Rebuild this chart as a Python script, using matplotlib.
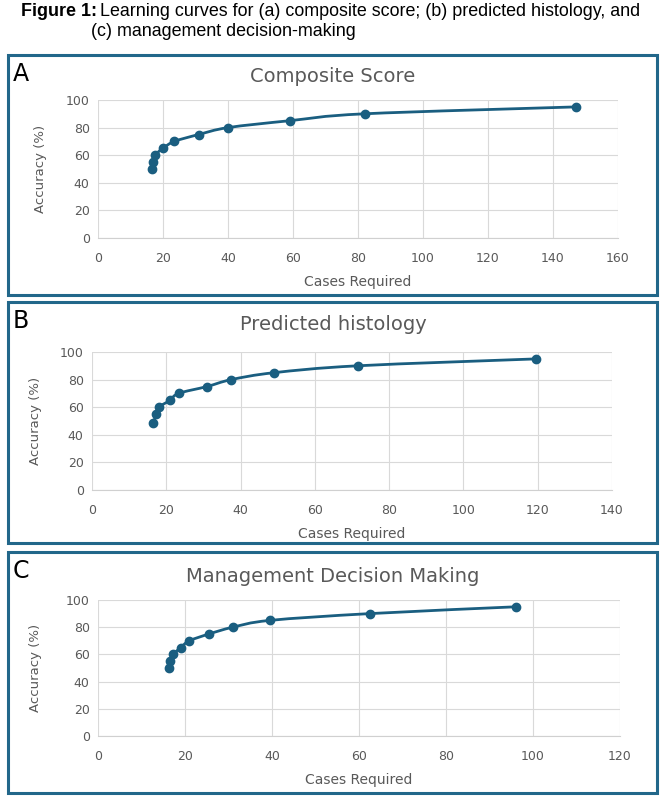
import matplotlib.pyplot as plt
from matplotlib.path import Path
from matplotlib.patches import PathPatch, Rectangle
import numpy as np

W, H = 666, 802

# data
comp_cases = [16.5, 16.8, 17.5, 20, 23.5, 31, 40, 59, 82, 147]
comp_acc = [50, 55, 60, 65, 70, 75, 80, 85, 90, 95]

hist_cases = [16.5, 17.3, 18, 21, 23.3, 31, 37.5, 49, 71.5, 119.5]
hist_acc = [48.5, 55, 60, 65, 70, 75, 80, 85, 90, 95]

mgmt_cases = [16.3, 16.6, 17.3, 19, 21, 25.5, 31, 39.5, 62.5, 96]
mgmt_acc = [50, 55, 60, 65, 70, 75, 80, 85, 90, 95]

titles = ["Composite Score", "Predicted histology", "Management Decision Making"]
letters = ["A", "B", "C"]
xmaxes = [160, 140, 120]

blue = "#1a5e80"
frame_col = "#22678a"
grey = "#595959"

def fx(px):
    return px / W

def fy(py):
    return 1 - py / H

def smooth_path(xs, ys):
    # excel style smoothed line: catmull-rom turned into bezier segments
    pts = np.column_stack([xs, ys]).astype(float)
    verts = [pts[0]]
    codes = [Path.MOVETO]
    n = len(pts)
    for i in range(n - 1):
        p0 = pts[i - 1] if i > 0 else pts[i]
        p1 = pts[i]
        p2 = pts[i + 1]
        p3 = pts[i + 2] if i + 2 < n else pts[i + 1]
        c1 = p1 + (p2 - p0) / 6
        c2 = p2 - (p3 - p1) / 6
        verts += [c1, c2, p2]
        codes += [Path.CURVE4] * 3
    return Path(verts, codes)

fig = plt.figure(figsize=(W / 100, H / 100), dpi=100)
renderer = fig.canvas.get_renderer()

# header caption, sized so the first line spans like the original
cap_font = "Liberation Sans"
line1 = "Learning curves for (a) composite score; (b) predicted histology, and"
probe = fig.text(0, 0, line1, fontsize=10, family=cap_font)
w10 = probe.get_window_extent(renderer).width
probe.remove()
cap_size = 10 * 542 / w10

fig.text(fx(21), fy(12), "Figure 1:", fontsize=cap_size, fontweight="bold",
         family=cap_font, va="center")
fig.text(fx(100), fy(12), line1, fontsize=cap_size, family=cap_font, va="center")
fig.text(fx(91), fy(32), "(c) management decision-making",
         fontsize=cap_size, family=cap_font, va="center")

# panel geometry in pixels: box (top, bottom), axes (left, right, top, bottom)
boxes = [(55, 295), (302, 543), (552, 793)]
axpos = [(98, 618, 100, 238), (92, 612, 352, 490), (98, 620, 600, 736)]
title_y = [77, 325, 576]
ylab_x = [47, 42, 42]
data = [(comp_cases, comp_acc), (hist_cases, hist_acc), (mgmt_cases, mgmt_acc)]

for k in range(3):
    top, bot = boxes[k]
    fig.patches.append(Rectangle((fx(8), fy(bot)), fx(649), (bot - top) / H,
                                 transform=fig.transFigure, fill=False,
                                 edgecolor=frame_col, linewidth=2.2))
    l, r, t, b = axpos[k]
    ax = fig.add_axes([fx(l), fy(b), fx(r - l), (b - t) / H])
    xs, ys = data[k]
    ax.add_patch(PathPatch(smooth_path(xs, ys), facecolor="none",
                           edgecolor=blue, linewidth=2, zorder=3))
    ax.plot(xs, ys, "o", color=blue, markersize=6, zorder=4)
    ax.set_xlim(0, xmaxes[k])
    ax.set_ylim(0, 100)
    ax.set_xticks(np.arange(0, xmaxes[k] + 1, 20))
    ax.set_yticks(np.arange(0, 101, 20))
    ax.grid(True, color="#d9d9d9", linewidth=0.8)
    ax.set_axisbelow(True)
    for s in ["top", "right", "left"]:
        ax.spines[s].set_visible(False)
    ax.spines["bottom"].set_color("#d0d0d0")
    ax.tick_params(axis="x", length=0, labelsize=9, labelcolor=grey, pad=10)
    ax.tick_params(axis="y", length=0, labelsize=9, labelcolor=grey, pad=6)
    ax.set_xlabel("Cases Required", fontsize=10, color=grey)
    ax.set_ylabel("Accuracy (%)", fontsize=9.5, color=grey)
    ax.xaxis.set_label_coords(0.5, -37 / (b - t))
    ax.yaxis.set_label_coords((ylab_x[k] - l) / (r - l), 0.5)
    fig.text(fx(333), fy(title_y[k]), titles[k], fontsize=14, color=grey,
             ha="center", va="center")
    fig.text(fx(13), fy(top + 19), letters[k], fontsize=17, va="center")

fig.savefig("out.png", dpi=100)
